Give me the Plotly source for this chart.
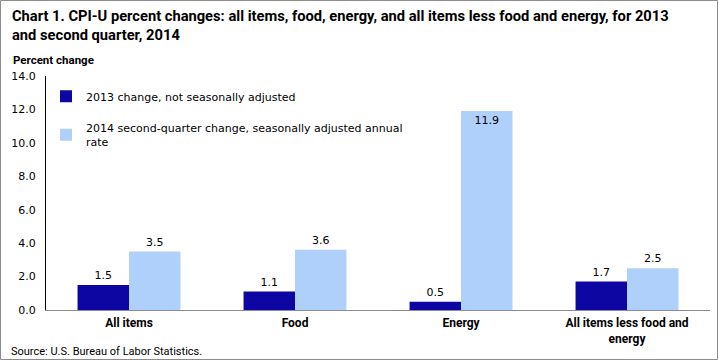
import plotly.graph_objects as go

categories = ["All items", "Food", "Energy", "All items less food and<br>energy"]
series_2013 = [1.5, 1.1, 0.5, 1.7]
series_2014 = [3.5, 3.6, 11.9, 2.5]
name_2013 = "2013 change, not seasonally adjusted"
name_2014 = "2014 second-quarter change, seasonally adjusted annual<br>rate"
tick_vals = [0, 2, 4, 6, 8, 10, 12, 14]

W, H = 719, 361
L, R, T, B = 46, 9, 76, 51
pw, ph = W - L - R, H - T - B

narrow = "Roboto, Liberation Sans, sans-serif"
verd = "DejaVu Sans, Verdana, sans-serif"

fig = go.Figure()
fig.add_trace(go.Bar(
    x=categories, y=series_2013, name=name_2013, legendgroup="a",
    marker=dict(color="#0e06a2", line=dict(width=0)),
    text=[f"{v:.1f}" for v in series_2013], textposition="outside",
    textfont=dict(family=verd, size=11, color="#000000"), cliponaxis=False,
))
fig.add_trace(go.Bar(
    x=categories, y=series_2014, name=name_2014, legendgroup="b",
    marker=dict(color="#afd0fa", line=dict(width=0)),
    text=[f"{v:.1f}" for v in series_2014],
    textposition=["outside" if v < 10 else "inside" for v in series_2014],
    insidetextanchor="end",
    textfont=dict(family=verd, size=11, color="#000000"), cliponaxis=False,
))

fig.update_layout(
    width=W, height=H,
    margin=dict(l=L, r=R, t=T, b=B),
    paper_bgcolor="white", plot_bgcolor="white",
    barmode="group", bargap=0.38, bargroupgap=0,
    showlegend=True,
    legend=dict(x=0.0, y=0.975, xanchor="left", yanchor="top",
                font=dict(family=verd, size=11, color="#000000"),
                bgcolor="rgba(0,0,0,0)", tracegroupgap=13, itemwidth=30,
                traceorder="grouped"),
    xaxis=dict(showline=True, linecolor="#8c8c8c", linewidth=1, ticks="",
               tickfont=dict(family=narrow, size=12, color="#000000", weight="bold"),
               showgrid=False, ticklabelstandoff=2),
    yaxis=dict(range=[0, 14], tickvals=tick_vals, tickformat=".1f",
               showline=True, linecolor="#000000", linewidth=1, ticks="",
               showgrid=False, zeroline=False, ticklabelstandoff=7,
               tickfont=dict(family=verd, size=11, color="#000000")),
    font=dict(family=verd),
    annotations=[
        dict(text="<b>Chart 1. CPI-U percent changes: all items, food, energy, and all items less food and energy, for 2013<br>and second quarter, 2014</b>",
             xref="paper", yref="paper", x=(10 - L) / pw, y=(H - B - 5) / ph,
             xanchor="left", yanchor="top", align="left", showarrow=False,
             font=dict(family=narrow, size=14.7, color="#000000")),
        dict(text="<b>Percent change</b>", xref="paper", yref="paper",
             x=(11 - L) / pw, y=(H - B - 51) / ph, xanchor="left", yanchor="top",
             showarrow=False, font=dict(family=narrow, size=11.5, color="#000000")),
        dict(text="Source: U.S. Bureau of Labor Statistics.", xref="paper", yref="paper",
             x=(9 - L) / pw, y=(H - B - 343) / ph, xanchor="left", yanchor="top",
             showarrow=False, font=dict(family=narrow, size=11, color="#000000")),
    ],
    shapes=[dict(type="rect", xref="paper", yref="paper",
                 x0=(0.5 - L) / pw, x1=(W - 1.5 - L) / pw,
                 y0=-(B - 1.5) / ph, y1=(H - B - 0.5) / ph,
                 line=dict(color="#8c8c8c", width=1), fillcolor="rgba(0,0,0,0)")],
)

fig.write_html("out.html", config={"displayModeBar": False},
               post_script="document.body.style.margin='0';document.body.style.overflow='hidden';")
